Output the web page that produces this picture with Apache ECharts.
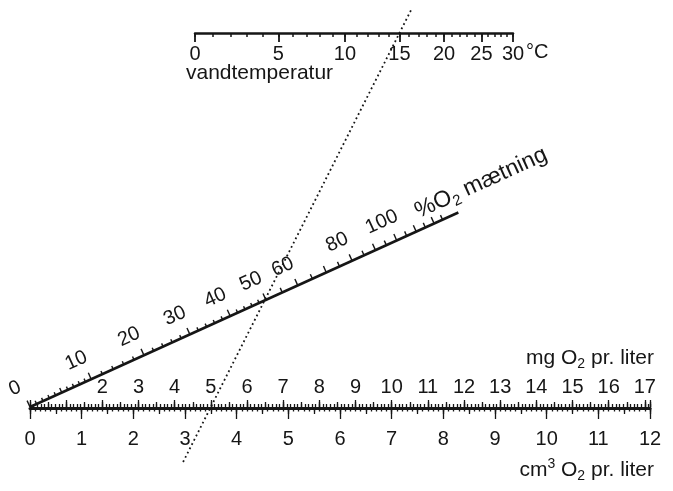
<!DOCTYPE html>
<html>
<head>
<meta charset="utf-8">
<title>Iltmætning</title>
<script src="https://cdn.jsdelivr.net/npm/echarts@6/dist/echarts.min.js"></script>
<style>
  html, body { margin: 0; background: #fff; }
  #chart { width: 673px; height: 491px; }
</style>
</head>
<body>
<div id="chart"></div>
<script>
// vandtemperatur (°C) og iltindhold ved 100% mætning (mg O2 pr. liter)
var tempC = [0, 1, 2, 3, 4, 5, 6, 7, 8, 9, 10, 11, 12, 13, 14, 15, 16, 17, 18, 19, 20,
             21, 22, 23, 24, 25, 26, 27, 28, 29, 30];
var o2Sat = [14.62, 14.22, 13.83, 13.46, 13.11, 12.77, 12.45, 12.14, 11.84, 11.56, 11.29,
             11.03, 10.78, 10.54, 10.31, 10.08, 9.87, 9.66, 9.47, 9.28, 9.09,
             8.91, 8.74, 8.58, 8.42, 8.26, 8.11, 7.97, 7.83, 7.69, 7.56];
var tempLabels = [0, 5, 10, 15, 20, 25, 30];
var mgLabels = [2, 3, 4, 5, 6, 7, 8, 9, 10, 11, 12, 13, 14, 15, 16, 17];
var pctLabels = [0, 10, 20, 30, 40, 50, 60, 80, 100];
// streger på %-skalaen: [fra, til, trin]
var pctTicks = [[0, 10, 1], [10, 50, 2], [50, 125, 5]];
var pctEnd = 135;
// eksempel: 15 °C og 5 mg/l giver ca. 50 %
var eksTemp = 15, eksMg = 5;
var cmPerMg = 0.7;
var cmMax = 12;

var ink = '#161616';
var font = '"Liberation Sans", Arial, Helvetica, sans-serif';
var fs = 20, fsTitle = 21, fsSub = 14;

// placering af skalaerne (px)
var baseL = 30, baseR = 650, baseY = 407;
var tempL = 195, tempR = 513, tempY = 33;

var mgMax = cmMax / cmPerMg;
var pxPerMg = (baseR - baseL) / mgMax;
var satHi = Math.max.apply(null, o2Sat), satLo = Math.min.apply(null, o2Sat);
// temperaturskalaen udtrykt i mg-enheder på den nederste skala
var u0 = (tempL - baseL) / pxPerMg, u1 = (tempR - baseL) / pxPerMg;
var kr = (u1 - u0) / (satHi - satLo);
var uZero = u0 + kr * satHi;

function topU(sat) { return uZero - kr * sat; }
function diagPoint(pct) {
    var r = pct / 100, s = r / (kr + r);
    return [s * uZero, s];
}
function satOf(t) { return o2Sat[tempC.indexOf(t)]; }

var tickData = [];
pctTicks.forEach(function (seg) {
    for (var v = seg[0]; v <= seg[1]; v += seg[2]) {
        if (tickData.length && tickData[tickData.length - 1][0] === v) continue;
        tickData.push([v, v % 10 === 0 ? 7 : (v % 5 === 0 ? 5 : 3.5)]);
    }
});

var ang = Math.atan2(baseY - tempY, uZero * pxPerMg);

var eksTop = topU(satOf(eksTemp));
function eksLine(s) { return [eksMg + (eksTop - eksMg) * s, s]; }

function frame(api) {
    var a = api.coord([0, 0]), b = api.coord([uZero, 1]);
    var dx = b[0] - a[0], dy = b[1] - a[1], L = Math.hypot(dx, dy);
    return { ux: dx / L, uy: dy / L, nx: dy / L, ny: -dx / L, rot: Math.atan2(-dy, dx) };
}

var chart = echarts.init(document.getElementById('chart'));

function baseAxis(pos, max, interval, len, extra) {
    return Object.assign({
        type: 'value', gridIndex: 1, position: pos, min: 0, max: max, interval: interval,
        axisLine: { show: false },
        axisTick: { show: true, length: len, lineStyle: { color: ink, width: 1.3 } },
        axisLabel: { show: false },
        splitLine: { show: false }
    }, extra || {});
}

var richMain = { fontSize: fsTitle, fontFamily: font, fill: ink, color: ink, lineHeight: 26 };
var richSub = { fontSize: fsSub, fontFamily: font, fill: ink, color: ink, lineHeight: 26, verticalAlign: 'bottom' };
var richSup = { fontSize: fsSub, fontFamily: font, fill: ink, color: ink, lineHeight: 26, verticalAlign: 'top' };

chart.setOption({
    backgroundColor: '#fff',
    animation: false,
    textStyle: { fontFamily: font },
    grid: [
        { left: tempL, width: tempR - tempL, top: 0, height: tempY, outerBoundsMode: 'none' },
        { left: baseL, width: baseR - baseL, top: baseY, height: 1, outerBoundsMode: 'none' },
        { left: baseL, width: baseR - baseL, top: tempY, height: baseY - tempY, outerBoundsMode: 'none' }
    ],
    xAxis: [
        {
            type: 'value', gridIndex: 0, position: 'bottom', min: satLo, max: satHi, inverse: true,
            axisLine: { show: true, lineStyle: { color: ink, width: 2.5 } },
            axisTick: { show: true, customValues: o2Sat, length: 4, lineStyle: { color: ink, width: 1.5 } },
            axisLabel: { show: false },
            splitLine: { show: false }
        },
        {
            type: 'value', gridIndex: 0, position: 'bottom', min: satLo, max: satHi, inverse: true,
            axisLine: { show: false },
            axisTick: { show: true, customValues: tempLabels.map(satOf), length: 9, lineStyle: { color: ink, width: 1.8 } },
            axisLabel: {
                show: true, customValues: tempLabels.map(satOf), margin: 11,
                fontSize: fs, color: ink, fontFamily: font,
                formatter: function (v) {
                    for (var i = 0; i < o2Sat.length; i++) {
                        if (Math.abs(o2Sat[i] - v) < 1e-6) return String(tempC[i]);
                    }
                    return '';
                }
            },
            splitLine: { show: false }
        },
        baseAxis('top', mgMax, 1, 8, {
            axisLine: { show: true, lineStyle: { color: ink, width: 3 } },
            axisLabel: { show: true, customValues: mgLabels, margin: 10, fontSize: fs, color: ink, fontFamily: font }
        }),
        baseAxis('top', mgMax, 0.5, 5),
        baseAxis('top', mgMax, 0.1, 3),
        baseAxis('bottom', cmMax, 1, 11, {
            axisLabel: { show: true, margin: 21, fontSize: fs, color: ink, fontFamily: font }
        }),
        baseAxis('bottom', cmMax, 0.5, 6),
        baseAxis('bottom', cmMax, 0.1, 3.5),
        { type: 'value', gridIndex: 2, min: 0, max: mgMax, show: false }
    ],
    yAxis: [
        { type: 'value', gridIndex: 0, show: false },
        { type: 'value', gridIndex: 1, show: false },
        { type: 'value', gridIndex: 2, min: 0, max: 1, show: false }
    ],
    series: [
        {
            type: 'line', xAxisIndex: 8, yAxisIndex: 2, silent: true, symbol: 'none', clip: false,
            data: [diagPoint(0), diagPoint(pctEnd)],
            lineStyle: { color: ink, width: 2.6 }
        },
        {
            type: 'line', xAxisIndex: 8, yAxisIndex: 2, silent: true, symbol: 'none', clip: false,
            data: [eksLine(-0.147), eksLine(1.067)],
            lineStyle: { color: ink, width: 1.8, type: [1.8, 3] }
        },
        {
            type: 'custom', xAxisIndex: 8, yAxisIndex: 2, silent: true,
            data: tickData,
            renderItem: function (params, api) {
                var f = frame(api);
                var p = api.coord(diagPoint(api.value(0)));
                var len = api.value(1);
                return {
                    type: 'line',
                    shape: { x1: p[0], y1: p[1], x2: p[0] + f.nx * len, y2: p[1] + f.ny * len },
                    style: { stroke: ink, lineWidth: 1.4 }
                };
            }
        },
        {
            type: 'custom', xAxisIndex: 8, yAxisIndex: 2, silent: true,
            data: pctLabels.map(function (v) { return [v, 0]; }),
            renderItem: function (params, api) {
                var f = frame(api);
                var v = api.value(0);
                var p = api.coord(diagPoint(v));
                return {
                    type: 'text',
                    x: p[0] + f.nx * 23 - f.ux * 6,
                    y: p[1] + f.ny * 23 - f.uy * 6,
                    rotation: f.rot,
                    style: {
                        text: String(v), fontSize: fs, fontFamily: font, fill: ink,
                        align: 'center', verticalAlign: 'middle'
                    }
                };
            }
        }
    ],
    graphic: [
        {
            type: 'text', x: 526, y: 52,
            style: { text: '°C', fontSize: fs, fontFamily: font, fill: ink, align: 'left', verticalAlign: 'middle' }
        },
        {
            type: 'text', x: 186, y: 73,
            style: { text: 'vandtemperatur', fontSize: fsTitle, fontFamily: font, fill: ink, align: 'left', verticalAlign: 'middle' }
        },
        {
            type: 'text', x: 654, y: 358,
            style: {
                text: '{a|mg O}{s|2}{a| pr. liter}', align: 'right', verticalAlign: 'middle',
                rich: { a: richMain, s: richSub }
            }
        },
        {
            type: 'text', x: 654, y: 470,
            style: {
                text: '{a|cm}{p|3}{a| O}{s|2}{a| pr. liter}', align: 'right', verticalAlign: 'middle',
                rich: { a: richMain, s: richSub, p: richSup }
            }
        },
        {
            type: 'text', x: 481, y: 183, rotation: ang,
            style: {
                text: '{b|%O}{t|2}{b| mætning}', align: 'center', verticalAlign: 'middle',
                rich: {
                    b: { fontSize: 23, fontFamily: font, fill: ink, color: ink, lineHeight: 28 },
                    t: { fontSize: 15, fontFamily: font, fill: ink, color: ink, lineHeight: 28, verticalAlign: 'bottom' }
                }
            }
        }
    ]
});
</script>
</body>
</html>
